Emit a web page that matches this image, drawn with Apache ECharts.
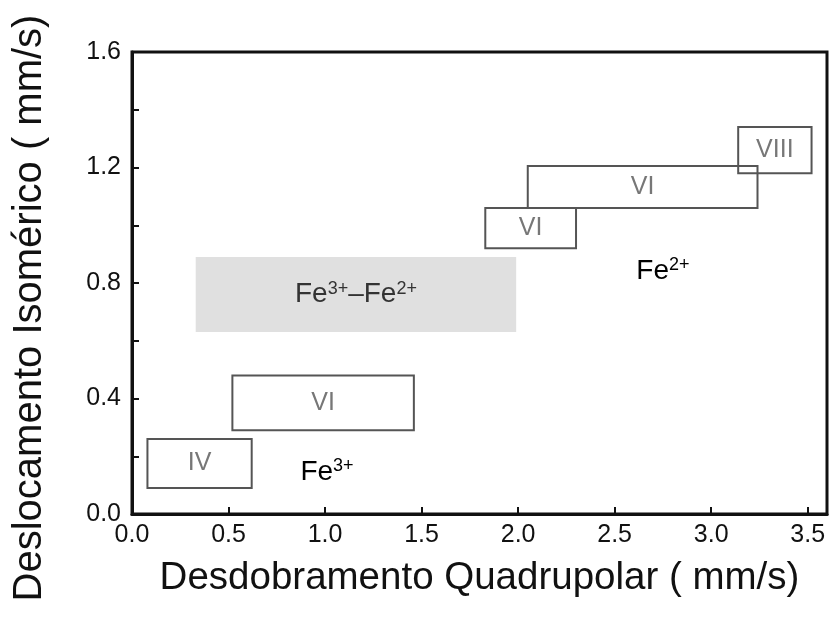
<!DOCTYPE html>
<html>
<head>
<meta charset="utf-8">
<script src="https://cdn.jsdelivr.net/npm/echarts@6/dist/echarts.min.js"></script>
<style>html,body{margin:0;padding:0;background:#fff}#c{width:835px;height:617px}</style>
</head>
<body>
<div id="c"></div>
<script>
// Site boxes: quadrupole splitting range (x) and isomer shift range (y), mm/s
var boxLabels = ['IV', 'VI', 'VI', 'VI', 'VIII'];
var boxX0 = [0.08, 0.52, 1.83, 2.05, 3.14];
var boxX1 = [0.62, 1.46, 2.30, 3.24, 3.52];
var boxY0 = [0.09, 0.29, 0.92, 1.06, 1.18];
var boxY1 = [0.26, 0.48, 1.06, 1.205, 1.34];

// Mixed-valence shaded region
var mixedX = [0.33, 1.99];
var mixedY = [0.63, 0.89];
var mixedLabel = '{n|Fe}{s|3+}{n|–Fe}{s|2+}';

// Free annotations
var noteText = ['{n|Fe}{s|3+}', '{n|Fe}{s|2+}'];
var noteX = [1.01, 2.75];
var noteY = [0.145, 0.84];

var xTicks = [0, 0.5, 1.0, 1.5, 2.0, 2.5, 3.0, 3.5];
var yTickLabels = [0, 0.4, 0.8, 1.2, 1.6];

var FONT = 'Liberation Sans, Arial, Helvetica, sans-serif';
var richFe = {
  n: {fontSize: 28, fontFamily: FONT, color: '#111', lineHeight: 30},
  s: {fontSize: 18, fontFamily: FONT, color: '#111', verticalAlign: 'top', lineHeight: 30}
};

var chart = echarts.init(document.getElementById('c'), null, {renderer: 'canvas'});

var boxData = boxLabels.map(function (l, i) { return [boxX0[i], boxX1[i], boxY0[i], boxY1[i], l]; });

chart.setOption({
  animation: false,
  backgroundColor: '#fff',
  grid: {left: 132, right: 8, top: 52, bottom: 103, show: true, borderColor: '#111', borderWidth: 3, backgroundColor: 'transparent'},
  xAxis: {
    type: 'value', min: 0, max: 3.6, interval: 0.5,
    name: 'Desdobramento Quadrupolar ( mm/s)', nameLocation: 'middle', nameGap: 45,
    nameTextStyle: {fontSize: 38.5, fontFamily: FONT, color: '#111'},
    axisLine: {lineStyle: {color: '#111', width: 3}},
    axisTick: {inside: true, length: 7, lineStyle: {color: '#111', width: 2}, customValues: xTicks},
    axisLabel: {fontSize: 25, fontFamily: FONT, color: '#111', margin: 9, customValues: xTicks,
      formatter: function (v) { return v.toFixed(1); }},
    splitLine: {show: false}
  },
  yAxis: {
    type: 'value', min: 0, max: 1.6, interval: 0.2,
    name: 'Deslocamento Isomérico ( mm/s)', nameLocation: 'middle', nameGap: 82,
    nameTextStyle: {fontSize: 40, fontFamily: FONT, color: '#111', padding: [0, 50, 0, 0]},
    axisLine: {lineStyle: {color: '#111', width: 3}},
    axisTick: {inside: true, length: 7, lineStyle: {color: '#111', width: 2}},
    axisLabel: {fontSize: 25, fontFamily: FONT, color: '#111', margin: 11, customValues: yTickLabels,
      formatter: function (v) { return v.toFixed(1); }},
    splitLine: {show: false}
  },
  series: [
    {
      type: 'custom', z: 2,
      data: [[mixedX[0], mixedX[1], mixedY[0], mixedY[1]]],
      renderItem: function (params, api) {
        var p0 = api.coord([api.value(0), api.value(3)]);
        var p1 = api.coord([api.value(1), api.value(2)]);
        return {
          type: 'rect',
          shape: {x: p0[0], y: p0[1], width: p1[0] - p0[0], height: p1[1] - p0[1]},
          style: {fill: '#e0e0e0', stroke: null,
            text: mixedLabel, rich: richFe, textPosition: 'inside'}
        };
      }
    },
    {
      type: 'custom', z: 3,
      data: boxData,
      renderItem: function (params, api) {
        var d = boxData[params.dataIndex];
        var p0 = api.coord([d[0], d[3]]);
        var p1 = api.coord([d[1], d[2]]);
        return {
          type: 'group',
          children: [
            {type: 'rect', shape: {x: p0[0], y: p0[1], width: p1[0] - p0[0], height: p1[1] - p0[1]},
              style: {fill: null, stroke: '#555', lineWidth: 2}},
            {type: 'text', style: {text: d[4], x: (p0[0] + p1[0]) / 2, y: (p0[1] + p1[1]) / 2,
              textAlign: 'center', textVerticalAlign: 'middle', fontSize: 25, fontFamily: FONT, fill: '#777'}}
          ]
        };
      }
    },
    {
      type: 'custom', z: 4,
      data: noteText.map(function (t, i) { return [noteX[i], noteY[i], t]; }),
      renderItem: function (params, api) {
        var p = api.coord([api.value(0), api.value(1)]);
        return {
          type: 'text',
          style: {text: noteText[params.dataIndex], x: p[0], y: p[1], rich: richFe,
            textAlign: 'center', textVerticalAlign: 'middle'}
        };
      }
    }
  ]
});
</script>
</body>
</html>
